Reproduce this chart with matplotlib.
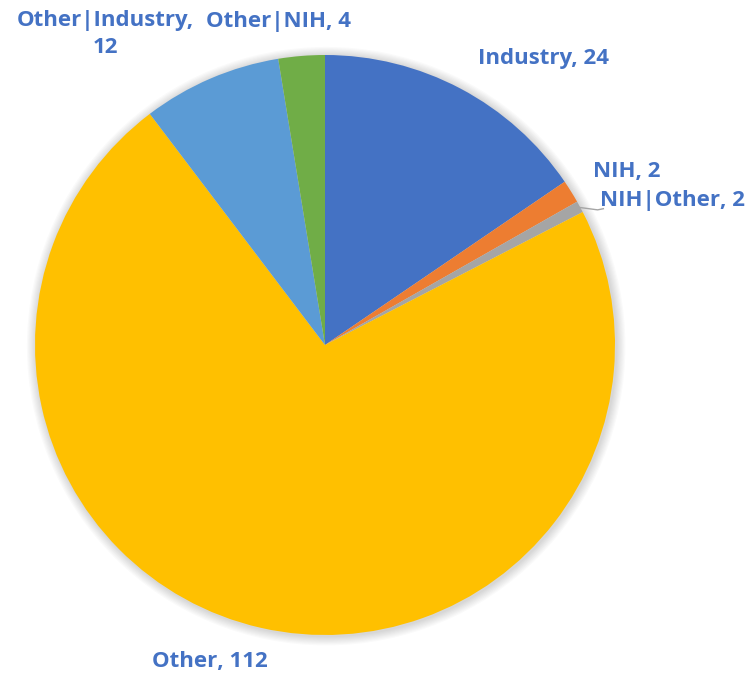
import matplotlib.pyplot as plt
from matplotlib.patches import Circle

# Funding source counts (slice sizes as drawn, and the counts shown in labels)
labels = ['Industry', 'NIH', 'NIH|Other', 'Other', 'Other|Industry', 'Other|NIH']
values = [24, 2, 1, 112, 12, 4]
shown_counts = [24, 2, 2, 112, 12, 4]
colors = ['#4472C4', '#ED7D31', '#A5A5A5', '#FFC000', '#5B9BD5', '#70AD47']

# label text positions (data coords, pie radius = 1)
label_pos = [(0.752, 0.988), (1.04, 0.597), (1.2, 0.497),
             (-0.397, -1.093), (-0.758, 1.072), (-0.159, 1.114)]

fig = plt.figure(figsize=(7.53, 6.78), dpi=100)
ax = fig.add_axes([0, 0, 1, 1])

# soft shadow under the pie
for i in range(8):
    ax.add_patch(Circle((0.004, -0.004), 1.0 + 0.004 * (8 - i), color='black',
                        alpha=0.018, lw=0, zorder=0))

wedges, _ = ax.pie(values, colors=colors, startangle=90, counterclock=False,
                   radius=1.0, wedgeprops=dict(linewidth=0))
for w in wedges:
    w.set_zorder(2)

for name, n, (x, y) in zip(labels, shown_counts, label_pos):
    txt = f'{name}, {n}'
    if name == 'Other|Industry':
        txt = f'{name},\n{n}'
    ax.text(x, y, txt, ha='center', va='center', fontsize=16, fontweight='bold',
            color='#4472C4', family='Open Sans', linespacing=1.4, zorder=3)

# leader line for the small NIH|Other slice
ax.plot([0.88, 0.94, 0.96], [0.474, 0.466, 0.47], color='#A5A5A5', lw=1, zorder=3)

ax.set_xlim(-325 / 290, 428 / 290)
ax.set_ylim(-333 / 290, 345 / 290)
ax.set_aspect('auto')
ax.axis('off')

fig.savefig('out.png', dpi=100)
